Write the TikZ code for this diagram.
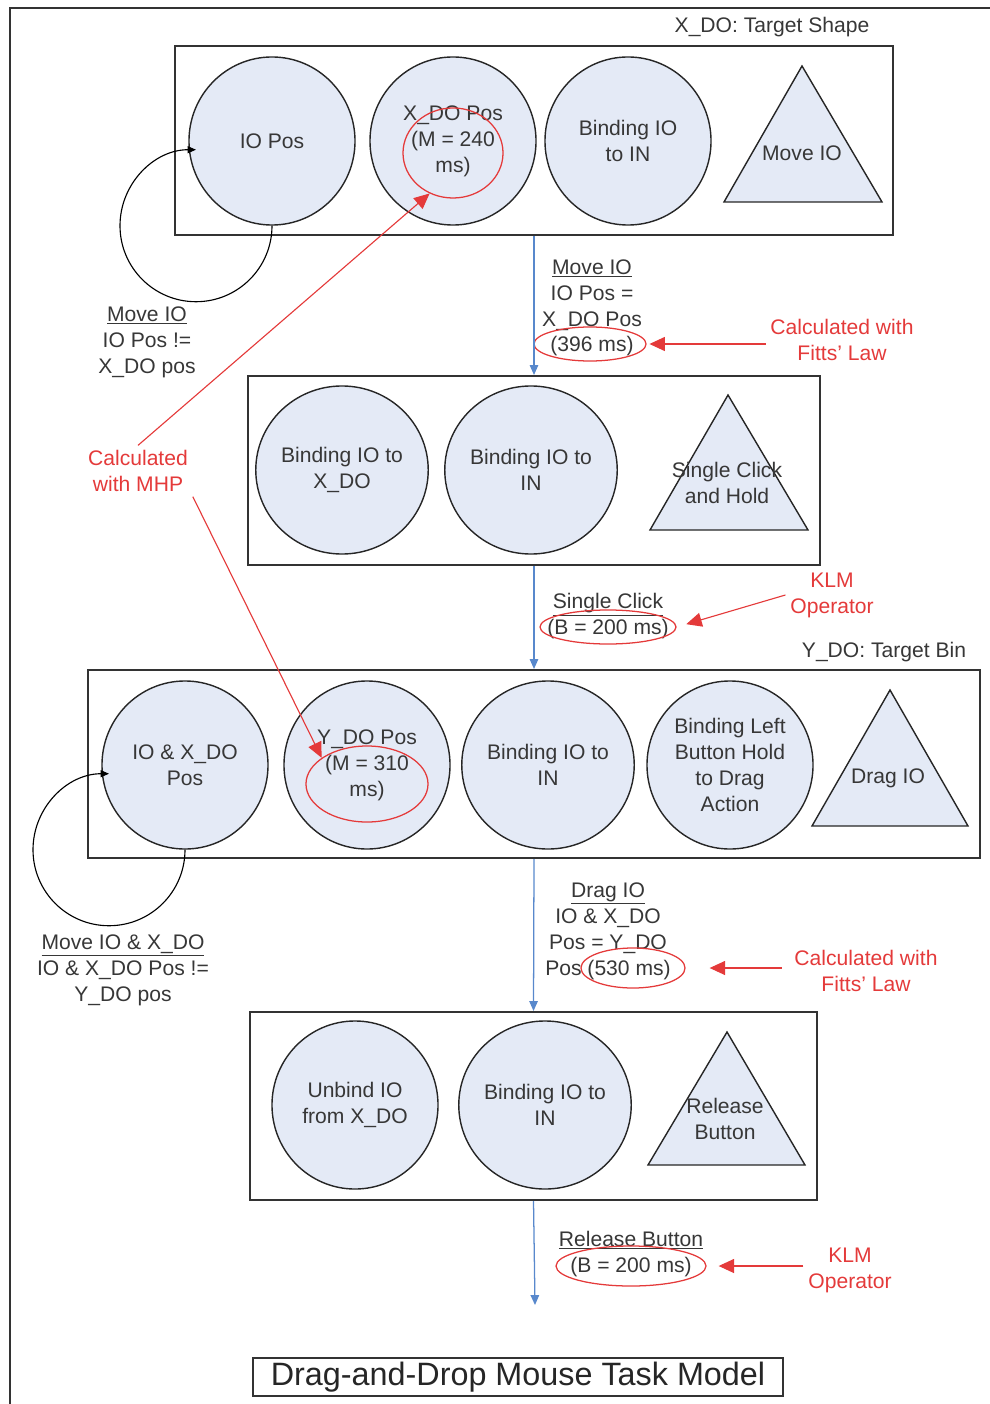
\documentclass[tikz,border=0pt]{standalone}
\usepackage{fontspec}
\setmainfont{Liberation Sans}
\usetikzlibrary{shapes.geometric,arrows.meta}
\definecolor{kreisblau}{RGB}{228,234,246}
\definecolor{schrift}{RGB}{55,55,55}
\definecolor{rot}{RGB}{228,58,58}
\definecolor{blau}{RGB}{88,136,204}
\tikzset{
	kasten/.style={draw=black!80, line width=1.4pt},
	kreis/.style={ellipse, draw=black!85, line width=1pt, fill=kreisblau, minimum width=4.15cm, minimum height=4.2cm, inner sep=0pt, align=center, text=schrift},
	dreieck/.style={draw=black!85, line width=1pt, fill=kreisblau},
	oval/.style={ellipse, draw=rot, line width=0.9pt, inner sep=0pt},
	beschr/.style={align=center, text=schrift},
	rotschrift/.style={align=center, text=rot},
	fluss/.style={draw=blau, line width=0.9pt, -{Triangle[length=7pt,width=6pt]}},
	zeiger/.style={draw=rot, line width=0.8pt, -{Triangle[length=11pt,width=10pt]}},
	schleife/.style={draw=black, line width=0.8pt, -{Triangle[length=6pt,width=5pt]}}
}
\begin{document}
\begin{tikzpicture}[x=0.025cm, y=-0.025cm, every node/.append style={font=\fontsize{15}{18.4}\selectfont}]
	\useasboundingbox (0,0) rectangle (990,1404);
	% Rahmen
	\draw [line width=1.3pt, black!80] (10,1404) -- (10,8) -- (990,8);
	\node [beschr] (xdoziel) at (772,27) {X\_DO: Target Shape};
	%%%% Kasten 1
	\node [kasten, minimum width=17.95cm, minimum height=4.725cm] (kasten1) at (534,140.5) {};
	\node [kreis] (iopos) at (272,141) {IO Pos};
	\node [kreis] (xdopos) at (453,141) {X\_DO Pos\\(M = 240\\ms)};
	\node [kreis] (bindin1) at (628,141) {Binding IO\\to IN};
	\draw [dreieck] (802,66) -- (882,202) -- (724,202) -- cycle;
	\node [beschr] (moveio) at (802,153) {Move IO};
	\node [oval, minimum width=2.5cm, minimum height=2.25cm] (oval0) at (453,153) {};
	%Schleife
	\draw [schleife] (iopos.south) arc [start angle=0, end angle=270, radius=76];
	\node [beschr] (schleife1) at (147,342) {\underline{Move IO}\\IO Pos !=\\X\_DO pos};
	% Uebergang 1
	\node [beschr] (trans1) at (592,308) {\underline{Move IO}\\IO Pos =\\X\_DO Pos\\(396 ms)};
	\node [oval, minimum width=2.8cm, minimum height=0.85cm] (oval1) at (590,344) {};
	\node [rotschrift] (fitts1) at (842,340) {Calculated with\\Fitts' Law};
	\draw [zeiger, shorten >=2pt] (fitts1.west |- oval1.east) -- (oval1.east);
	%%%% Kasten 2
	\node [kasten, minimum width=14.3cm, minimum height=4.725cm] (kasten2) at (534,470.5) {};
	\node [kreis] (bindxdo) at (342,470) {Binding IO to\\X\_DO};
	\node [kreis] (bindin2) at (531,470) {Binding IO to\\IN};
	\draw [dreieck] (728,395) -- (808,530) -- (650,530) -- cycle;
	\node [beschr] (klick) at (727,483) {Single Click\\and Hold};
	% Uebergang 2
	\node [beschr] (trans2) at (608,616) {\underline{Single Click}\\(B = 200 ms)};
	\node [oval, minimum width=3.4cm, minimum height=0.85cm] (oval2) at (608,627) {};
	\node [rotschrift] (klm1) at (832,595) {KLM\\Operator};
	\draw [zeiger, shorten >=0.25cm] (klm1.west) -- (oval2.east);
	\node [beschr] (ydoziel) at (884,652) {Y\_DO: Target Bin};
	%%%% Kasten 3
	\node [kasten, minimum width=22.3cm, minimum height=4.7cm] (kasten3) at (534,764) {};
	\node [kreis] (ioxdopos) at (185,765) {IO \& X\_DO\\Pos};
	\node [kreis] (ydopos) at (367,765) {Y\_DO Pos\\(M = 310\\ms)};
	\node [kreis] (bindin3) at (548,765) {Binding IO to\\IN};
	\node [kreis] (bindleft) at (730,765) {Binding Left\\Button Hold\\to Drag\\Action};
	\draw [dreieck] (890,690) -- (968,826) -- (812,826) -- cycle;
	\node [beschr] (dragio) at (888,778) {Drag IO};
	\node [oval, minimum width=3.05cm, minimum height=1.9cm] (oval5) at (367,784) {};
	%Schleife
	\draw [schleife] (ioxdopos.south) arc [start angle=0, end angle=270, radius=76];
	\node [beschr] (schleife2) at (123,970) {\underline{Move IO \& X\_DO}\\IO \& X\_DO Pos !=\\Y\_DO pos};
	% MHP
	\node [rotschrift] (mhp) at (138,471) {Calculated\\with MHP};
	\draw [zeiger] (mhp.north) -- (oval0.240);
	\draw [zeiger] (mhp.south east) -- (oval5.150);
	% Uebergang 3
	\node [beschr] (trans3) at (608,931) {\underline{Drag IO}\\IO \& X\_DO\\Pos = Y\_DO\\Pos (530 ms)};
	\node [oval, minimum width=2.6cm, minimum height=1cm] (oval3) at (633,968) {};
	\node [rotschrift] (fitts2) at (866,971) {Calculated with\\Fitts' Law};
	\draw [zeiger, shorten >=0.6cm, shorten <=0.2cm] (fitts2.west |- oval3.east) -- (oval3.east);
	%%%% Kasten 4
	\node [kasten, minimum width=14.175cm, minimum height=4.7cm] (kasten4) at (533.5,1106) {};
	\node [kreis] (unbind) at (355,1105) {Unbind IO\\from X\_DO};
	\node [kreis] (bindin4) at (545,1105) {Binding IO to\\IN};
	\draw [dreieck] (727,1032) -- (805,1165) -- (648,1165) -- cycle;
	\node [beschr] (loslassen) at (725,1119) {Release\\Button};
	% Uebergang 4
	\node [beschr] (trans4) at (631,1254) {\underline{Release Button}\\(B = 200 ms)};
	\node [oval, minimum width=3.75cm, minimum height=1cm] (oval4) at (631,1266) {};
	\node [rotschrift] (klm2) at (850,1270) {KLM\\Operator};
	\draw [zeiger, shorten >=0.3cm] (klm2.west |- oval4.east) -- (oval4.east);
	% Pfeile zwischen den Kaesten
	\coordinate (ende) at (535,1305);
	\draw [fluss] (kasten1.south) -- (kasten2.north);
	\draw [fluss] (kasten2.south) -- (kasten3.north);
	\draw [fluss] (kasten3.south) -- (kasten4.north);
	\draw [fluss] (kasten4.south) -- (ende);
	% Titel
	\node [draw=black!80, line width=1.3pt, minimum width=13.25cm, minimum height=0.95cm, inner sep=0pt, font=\fontsize{23}{26}\selectfont, text=black!85] (titel) at (518,1377) {Drag-and-Drop Mouse Task Model};
\end{tikzpicture}
\end{document}
